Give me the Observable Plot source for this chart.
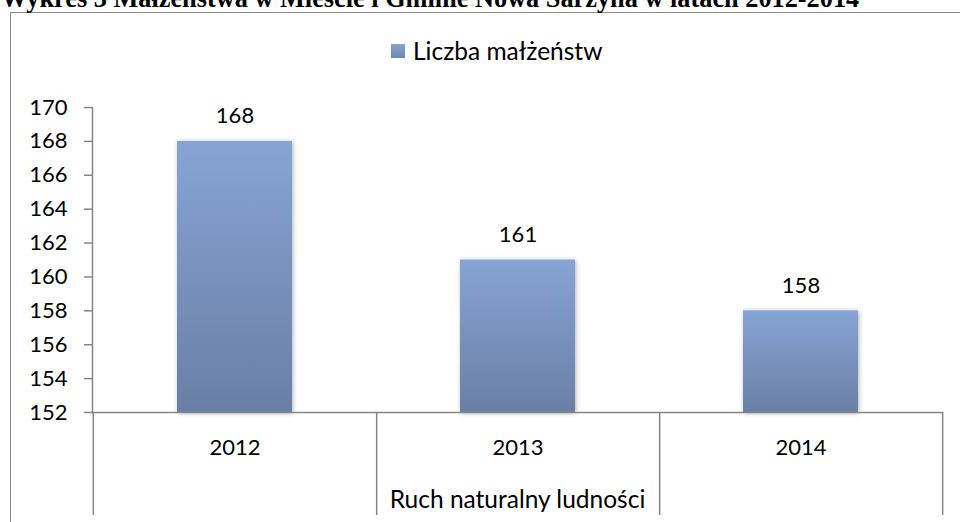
<!DOCTYPE html>
<html>
<head>
<meta charset="utf-8">
<script src="https://cdn.jsdelivr.net/npm/d3@7"></script>
<script src="https://cdn.jsdelivr.net/npm/@observablehq/plot@0.6"></script>
<style>
  html, body { margin: 0; padding: 0; background: #fff; }
  #wrap { position: relative; width: 960px; height: 522px; overflow: hidden; background: #fff; }
  #title { position: absolute; left: 1px; top: -14px; line-height: 26px; white-space: nowrap;
           font-family: "Liberation Serif", "Times New Roman", serif; font-weight: bold; font-size: 26.3px; color: #000; }
  #box { position: absolute; left: 10px; top: 12px; width: 1000px; height: 600px; border: 1.5px solid #8a8a8a; box-sizing: border-box; background: #fff; }
  #legend { position: absolute; left: 391px; top: 37px; height: 28px; display: flex; align-items: center;
            font-family: Lato, sans-serif; font-size: 24.5px; color: #000; line-height: 28px; }
  #legend .sw { width: 14px; height: 14px; margin-right: 8px; background: linear-gradient(#86a4d3, #6f87b2); }
  #chart { position: absolute; left: 0; top: 0; }
</style>
</head>
<body>
<div id="wrap">
  <div id="box"></div>
  <div id="title"></div>
  <div id="legend"><div class="sw"></div><span id="legendText"></span></div>
  <div id="chart"></div>
</div>
<script>
// ---- data ----
const chartTitle = "Wykres 3 Małżeństwa w Mieście i Gminie Nowa Sarzyna w latach 2012-2014";
const seriesName = "Liczba małżeństw";
const xTitle = "Ruch naturalny ludności";
const years = ["2012", "2013", "2014"];
const marriages = [168, 161, 158];
const yTicks = [152, 154, 156, 158, 160, 162, 164, 166, 168, 170];
const yDomain = [152, 170];

document.getElementById("title").textContent = chartTitle;
document.getElementById("legendText").textContent = seriesName;

const data = years.map((y, i) => ({year: y, value: marriages[i]}));

const W = 960, H = 522, mL = 92, mR = 18, mT = 107, mB = 110;
const step = (W - mL - mR) / years.length;
const axisGray = "#868686";

const defs = () => {
  const d = d3.create("svg:defs");
  const lg = d.append("linearGradient").attr("id", "barGrad")
    .attr("x1", 0).attr("y1", 0).attr("x2", 0).attr("y2", 1);
  lg.append("stop").attr("offset", "0%").attr("stop-color", "#86a4d4");
  lg.append("stop").attr("offset", "100%").attr("stop-color", "#6a7fa6");
  const f = d.append("filter").attr("id", "shadow").attr("x", "-20%").attr("y", "-5%").attr("width", "140%").attr("height", "110%");
  f.append("feDropShadow").attr("dx", 1).attr("dy", 1).attr("stdDeviation", 2.5).attr("flood-color", "#000").attr("flood-opacity", 0.3);
  return d.node();
};

const chart = Plot.plot({
  width: W, height: H,
  marginLeft: mL, marginRight: mR, marginTop: mT, marginBottom: mB,
  style: {fontFamily: "Lato, sans-serif", fontSize: "22px", color: "#000", background: "transparent", overflow: "visible"},
  x: {domain: years, paddingInner: 0.594, paddingOuter: 0.297, label: null},
  y: {domain: yDomain, label: null},
  marks: [
    defs,
    Plot.barY(data, {x: "year", y1: yDomain[0], y2: "value", fill: "url(#barGrad)"}),
    Plot.frame({anchor: "left", stroke: axisGray, strokeWidth: 1.5}),
    Plot.frame({anchor: "bottom", stroke: axisGray, strokeWidth: 1.5}),
    Plot.axisY({ticks: yTicks, tickSize: 8, tickPadding: 17, stroke: axisGray, strokeWidth: 1.5, fill: "#000", tickFormat: d => String(d), label: null}),
    Plot.axisX({tickSize: 0, tickPadding: 27, fill: "#000", label: null}),
    Plot.axisX({tickSize: 103, tickFormat: () => "", dx: step / 2, stroke: axisGray, strokeWidth: 1.5, label: null}),
    Plot.axisX({ticks: [years[0]], tickSize: 103, tickFormat: () => "", dx: -step / 2, stroke: axisGray, strokeWidth: 1.5, label: null}),
    Plot.text(data, {x: "year", y: "value", text: d => String(d.value), dy: -25, fill: "#000"}),
    Plot.text([xTitle], {frameAnchor: "bottom", lineAnchor: "middle", dy: 88, fill: "#000", fontSize: 24.5})
  ]
});
d3.select(chart).selectAll("g[aria-label='bar'] rect").attr("filter", "url(#shadow)");
document.getElementById("chart").appendChild(chart);
</script>
</body>
</html>
